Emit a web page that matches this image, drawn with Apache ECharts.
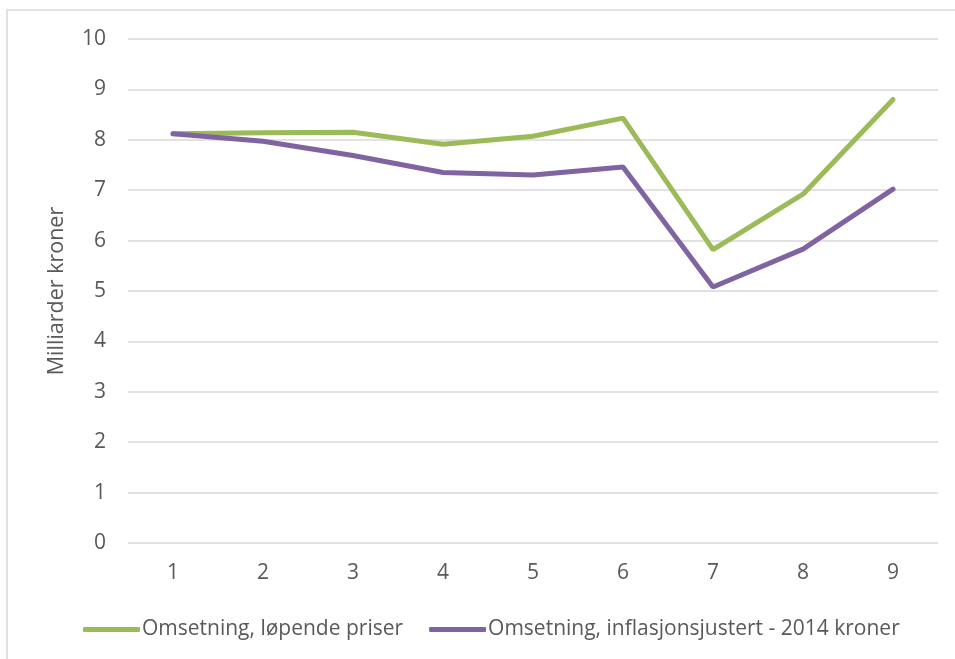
<!DOCTYPE html>
<html>
<head>
<meta charset="utf-8">
<script src="https://cdn.jsdelivr.net/npm/echarts@6/dist/echarts.min.js"></script>
<style>
  html, body { margin: 0; padding: 0; background: #fff; }
  #chart { width: 955px; height: 659px; }
</style>
</head>
<body>
<div id="chart"></div>
<script>
// data
const categories = ["1", "2", "3", "4", "5", "6", "7", "8", "9"];
const lopendePriser = [8.12, 8.14, 8.15, 7.91, 8.07, 8.43, 5.82, 6.92, 8.80];
const inflasjonsjustert = [8.12, 7.97, 7.69, 7.35, 7.30, 7.46, 5.08, 5.83, 7.02];
const seriesNames = ["Omsetning, løpende priser", "Omsetning, inflasjonsjustert - 2014 kroner"];
const yTitle = "Milliarder kroner";

const textColor = "#595959";
const fontFamily = "'Open Sans', 'Liberation Sans', sans-serif";

const chart = echarts.init(document.getElementById("chart"), null, { renderer: "canvas" });

chart.setOption({
  animation: false,
  textStyle: { fontFamily: fontFamily, color: textColor },
  graphic: [
    {
      // chart frame, runs off the right and bottom edge
      type: "rect",
      shape: { x: 7, y: 10, width: 960, height: 660 },
      style: { fill: "none", stroke: "#d9d9d9", lineWidth: 1.5 },
      silent: true
    }
  ],
  grid: { left: 128, right: 17, top: 39, bottom: 116 },
  legend: {
    bottom: 19,
    left: 83,
    padding: 0,
    itemWidth: 57,
    itemHeight: 5,
    itemGap: 26,
    icon: "roundRect",
    textStyle: { fontSize: 21, color: textColor, fontFamily: fontFamily, padding: [0, 0, 0, -3] },
    data: seriesNames
  },
  xAxis: {
    type: "category",
    data: categories,
    boundaryGap: true,
    axisLine: { show: false },
    axisTick: { show: false },
    axisLabel: { fontSize: 21, color: textColor, margin: 20 }
  },
  yAxis: {
    type: "value",
    min: 0,
    max: 10,
    interval: 1,
    name: yTitle,
    nameLocation: "middle",
    nameGap: 60,
    nameTextStyle: { fontSize: 21.5, color: textColor },
    axisLine: { show: false },
    axisTick: { show: false },
    axisLabel: { fontSize: 21, color: textColor, margin: 22 },
    splitLine: { lineStyle: { color: "#d9d9d9", width: 1.5 } }
  },
  series: [
    {
      name: seriesNames[0],
      type: "line",
      data: lopendePriser,
      symbol: "none",
      lineStyle: { color: "#9bbb59", width: 5, cap: "round" },
      itemStyle: { color: "#9bbb59" }
    },
    {
      name: seriesNames[1],
      type: "line",
      data: inflasjonsjustert,
      symbol: "none",
      lineStyle: { color: "#8064a2", width: 5, cap: "round" },
      itemStyle: { color: "#8064a2" }
    }
  ]
});
</script>
</body>
</html>
